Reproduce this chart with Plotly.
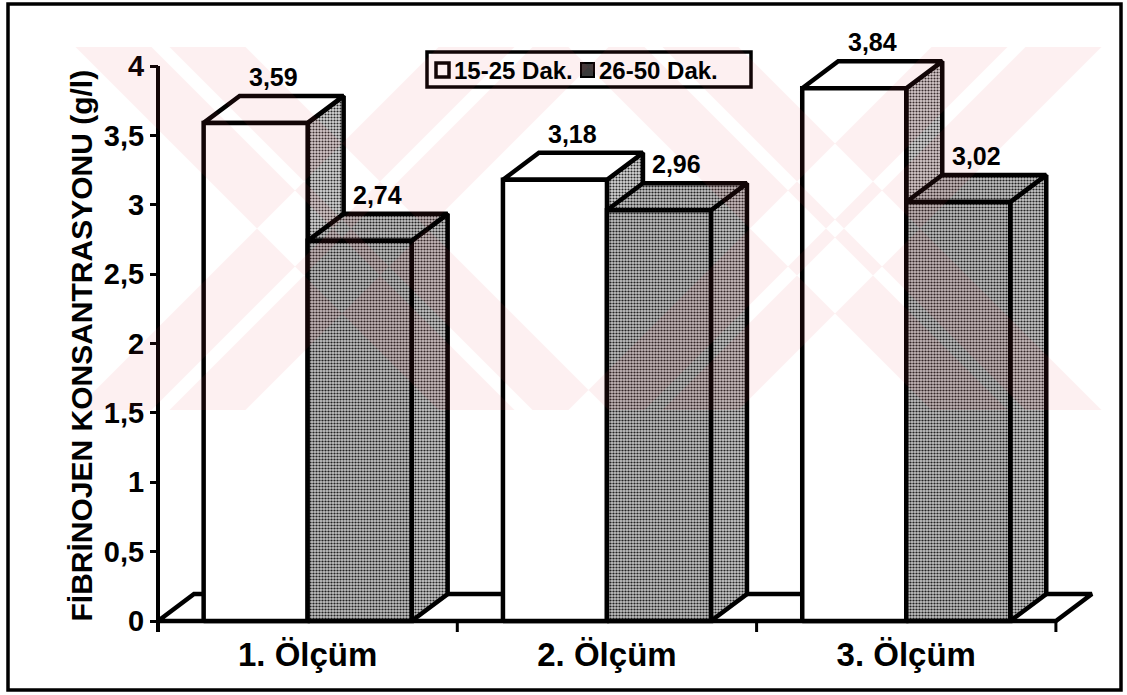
import plotly.graph_objects as go

# ---- data -------------------------------------------------------------
categories = ["1. Ölçüm", "2. Ölçüm", "3. Ölçüm"]
series_names = ["15-25 Dak.", "26-50 Dak."]
values_15_25 = [3.59, 3.18, 3.84]
values_26_50 = [2.74, 2.96, 3.02]
y_tick_vals = [0, 0.5, 1, 1.5, 2, 2.5, 3, 3.5, 4]
y_tick_text = ["0", "0,5", "1", "1,5", "2", "2,5", "3", "3,5", "4"]
y_title = "FİBRİNOJEN KONSANTRASYONU (g/l)"

# ---- canvas / scale setup ----------------------------------------------
FIG_W, FIG_H = 1127, 695
PLOT_L, PLOT_R, PLOT_T, PLOT_B = 120, 1110, 20, 632
X_ORIGIN_PX, X_PX_PER_UNIT = 158, 299.3      # pixel of x = -0.5
Y_ORIGIN_PX, Y_PX_PER_UNIT = 621, 138.75     # pixel of y = 0

x_range = [-0.5 - (X_ORIGIN_PX - PLOT_L) / X_PX_PER_UNIT,
           -0.5 + (PLOT_R - X_ORIGIN_PX) / X_PX_PER_UNIT]
y_range = [-(PLOT_B - Y_ORIGIN_PX) / Y_PX_PER_UNIT,
           (Y_ORIGIN_PX - PLOT_T) / Y_PX_PER_UNIT]


def px_x(px):
    return (px - PLOT_L) / (PLOT_R - PLOT_L)


def px_y(py):
    return (PLOT_B - py) / (PLOT_B - PLOT_T)


# 3-D box geometry (data units)
BAR_W = 0.3475
DEPTH_X = 36 / X_PX_PER_UNIT
DEPTH_Y = 27 / Y_PX_PER_UNIT
EDGE = 4.5
FONT = "Liberation Sans, Arial, sans-serif"


def stipple(bg, fg, solidity, size=3):
    return dict(shape=".", bgcolor=bg, fgcolor=fg, solidity=solidity,
                size=size, fillmode="replace")


STYLES = [
    dict(front=("white", None),
         top=("white", None),
         side=("#c8c8c8", stipple("#d6d6d6", "#2a2a2a", 0.40))),
    dict(front=("#a2a2a2", stipple("#c2c2c2", "#222222", 0.44)),
         top=("#a8a8a8", stipple("#c6c6c6", "#222222", 0.44)),
         side=("#acacac", stipple("#c8c8c8", "#262626", 0.44))),
]


def face(xs, ys, style):
    color, pattern = style
    tr = go.Scatter(
        x=xs + [xs[0]], y=ys + [ys[0]], mode="lines", fill="toself",
        fillcolor=color, line=dict(color="black", width=EDGE),
        hoverinfo="skip", showlegend=False,
    )
    if pattern is not None:
        tr.fillpattern = pattern
    return tr


fig = go.Figure()

# floor of the 3-D box
x_lo, x_hi = -0.5, len(categories) - 0.5
fig.add_trace(face([x_lo, x_hi, x_hi + DEPTH_X, x_lo + DEPTH_X],
                   [0, 0, DEPTH_Y, DEPTH_Y], ("white", None)))

# columns, painted left-to-right so nearer faces overlap correctly
series = [values_15_25, values_26_50]
annotations = []
for i, _ in enumerate(categories):
    for s, vals in enumerate(series):
        v = vals[i]
        x0 = i - BAR_W + s * BAR_W
        x1 = x0 + BAR_W
        st = STYLES[s]
        fig.add_trace(face([x1, x1 + DEPTH_X, x1 + DEPTH_X, x1],
                           [0, DEPTH_Y, v + DEPTH_Y, v], st["side"]))
        fig.add_trace(face([x0, x0 + DEPTH_X, x1 + DEPTH_X, x1],
                           [v, v + DEPTH_Y, v + DEPTH_Y, v], st["top"]))
        fig.add_trace(face([x0, x1, x1, x0], [0, 0, v, v], st["front"]))
        annotations.append(dict(
            x=(x0 + x1) / 2 + DEPTH_X / 2, y=v + DEPTH_Y,
            xref="x", yref="y", text=f"{v:.2f}".replace(".", ","),
            showarrow=False, yanchor="bottom", yshift=3,
            font=dict(family=FONT, size=25, color="black", weight="bold"),
        ))

# axis lines and category boundary ticks
tick_x, tick_y = [], []
for b in range(len(categories) + 1):
    tick_x += [b - 0.5, b - 0.5, None]
    tick_y += [0, y_range[0], None]
fig.add_trace(go.Scatter(x=tick_x, y=tick_y, mode="lines",
                         line=dict(color="black", width=3),
                         hoverinfo="skip", showlegend=False))
fig.add_trace(go.Scatter(x=[x_lo, x_lo], y=[y_range[0], y_tick_vals[-1]],
                         mode="lines", line=dict(color="black", width=4),
                         hoverinfo="skip", showlegend=False))

# y-axis title
annotations.append(dict(
    x=px_x(62), y=px_y(346), xref="paper", yref="paper", text=y_title,
    textangle=-90, showarrow=False,
    font=dict(family=FONT, size=30, color="black", weight="bold"),
))

# legend box
shapes = [
    dict(type="rect", xref="paper", yref="paper",
         x0=px_x(427), x1=px_x(751), y0=px_y(87), y1=px_y(52),
         line=dict(color="black", width=3.5), fillcolor="white", layer="above"),
    dict(type="rect", xref="paper", yref="paper",
         x0=px_x(436), x1=px_x(449), y0=px_y(77), y1=px_y(63),
         line=dict(color="black", width=3.5), fillcolor="white", layer="above"),
    dict(type="rect", xref="paper", yref="paper",
         x0=px_x(581), x1=px_x(594), y0=px_y(77), y1=px_y(63),
         line=dict(color="black", width=2), fillcolor="#3a3a3a", layer="above"),
]
for name, left in zip(series_names, [452, 597]):
    annotations.append(dict(
        x=px_x(left), y=px_y(70), xref="paper", yref="paper", text=name,
        xanchor="left", yanchor="middle", showarrow=False,
        font=dict(family=FONT, size=24, color="black", weight="bold"),
    ))

# outer frame
shapes.append(dict(type="rect", xref="paper", yref="paper",
                   x0=px_x(8), x1=px_x(1121), y0=px_y(690), y1=px_y(4),
                   line=dict(color="black", width=3.5), layer="above"))

# faint pink watermark: two large striped crosses
WM_TOP, WM_BOT = 47, 410
half = (WM_BOT - WM_TOP) / 2
path = ""
for cx in (342, 835):
    for sign in (-1, 1):
        for a, b in ((-85, -9), (9, 85)):
            xt0, xt1 = cx + sign * half + a, cx + sign * half + b
            xb0, xb1 = cx - sign * half + a, cx - sign * half + b
            path += (f"M{px_x(xt0)},{px_y(WM_TOP)} L{px_x(xt1)},{px_y(WM_TOP)} "
                     f"L{px_x(xb1)},{px_y(WM_BOT)} L{px_x(xb0)},{px_y(WM_BOT)} Z ")
shapes.append(dict(type="path", xref="paper", yref="paper", path=path,
                   fillcolor="rgb(235,60,80)", opacity=0.08,
                   line=dict(width=0), layer="above"))

fig.update_layout(
    width=FIG_W, height=FIG_H,
    margin=dict(l=PLOT_L, r=FIG_W - PLOT_R, t=PLOT_T, b=FIG_H - PLOT_B),
    paper_bgcolor="white", plot_bgcolor="rgba(0,0,0,0)",
    showlegend=False,
    xaxis=dict(range=x_range, showgrid=False, zeroline=False, showline=False,
               tickvals=list(range(len(categories))), ticktext=categories,
               ticks="", tickfont=dict(family=FONT, size=33, color="black",
                                       weight="bold")),
    yaxis=dict(range=y_range, showgrid=False, zeroline=False, showline=False,
               anchor="free", position=px_x(X_ORIGIN_PX),
               tickvals=y_tick_vals, ticktext=y_tick_text,
               ticks="outside", ticklen=8, tickwidth=3, tickcolor="black",
               tickfont=dict(family=FONT, size=29, color="black",
                             weight="bold")),
    shapes=shapes,
    annotations=annotations,
)

fig.write_html("out.html")
